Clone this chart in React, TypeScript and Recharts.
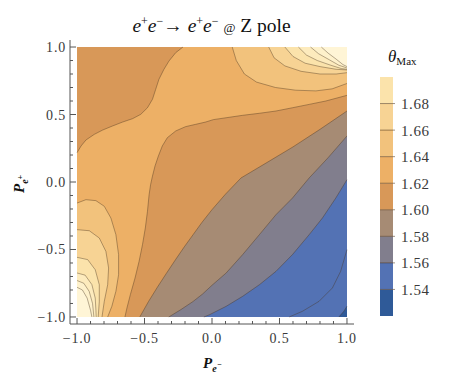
import React from "react";
import { ScatterChart, Scatter, XAxis, YAxis, BarChart, Bar } from "recharts";

type P = [number, number];

// contour levels and the fill of the band that starts at each level
const levels = [1.52, 1.54, 1.56, 1.58, 1.6, 1.62, 1.64, 1.66, 1.68, 1.7, 1.72, 1.74];
const levelColors = [
  "#2f5a98", "#5372b4", "#817e8d", "#a68b74", "#d89858", "#edb066",
  "#f2c27c", "#f7d394", "#fbe3ab", "#fdebbd", "#fef1cb", "#fff5d6",
];

// legend bar
const legendTicks = [1.54, 1.56, 1.58, 1.6, 1.62, 1.64, 1.66, 1.68];
const legendTop = 1.7;

// axis ticks
const majorTicks = [-1, -0.5, 0, 0.5, 1];
const minorTicks = [-1, -0.9, -0.8, -0.7, -0.6, -0.5, -0.4, -0.3, -0.2, -0.1, 0, 0.1, 0.2, 0.3, 0.4, 0.5, 0.6, 0.7, 0.8, 0.9, 1];

// contour lines, [P_e-, P_e+]
const c152: P[] = [[0.94, -1], [0.975, -0.96], [1, -0.92]];
const cArc: P[] = [[1, -0.501], [0.953, -0.662], [0.892, -0.785], [0.793, -0.884], [0.67, -0.958], [0.572, -1]];
const c156: P[] = [[1, 0.017], [0.917, -0.119], [0.818, -0.267], [0.72, -0.39], [0.596, -0.538], [0.474, -0.662], [0.351, -0.761], [0.227, -0.847], [0.105, -0.921], [-0.018, -0.983], [-0.06, -1]];
const c158: P[] = [[1, 0.341], [0.86, 0.18], [0.72, 0.03], [0.596, -0.119], [0.474, -0.242], [0.351, -0.39], [0.227, -0.538], [0.105, -0.674], [0, -0.765], [-0.07, -0.83], [-0.14, -0.885], [-0.23, -0.945], [-0.32, -1]];
const c160: P[] = [[1, 0.526], [0.8, 0.39], [0.6, 0.26], [0.4, 0.14], [0.215, 0.03], [0.1, -0.09], [0, -0.205], [-0.075, -0.3], [-0.14, -0.39], [-0.205, -0.48], [-0.27, -0.575], [-0.34, -0.68], [-0.405, -0.78], [-0.47, -0.885], [-0.535, -1]];
const c162a: P[] = [[-0.215, 1], [-0.269, 0.958], [-0.319, 0.896], [-0.356, 0.835], [-0.393, 0.761], [-0.417, 0.687], [-0.441, 0.613], [-0.478, 0.55], [-0.528, 0.501], [-0.589, 0.469], [-0.663, 0.444], [-0.737, 0.415], [-0.81, 0.385], [-0.872, 0.353], [-0.934, 0.311], [-0.97, 0.267], [-1, 0.217]];
const c162b: P[] = [[1, 0.642], [0.843, 0.6], [0.72, 0.575], [0.596, 0.55], [0.474, 0.526], [0.351, 0.509], [0.227, 0.494], [0.105, 0.476], [0.01, 0.462], [-0.048, 0.444], [-0.122, 0.427], [-0.196, 0.41], [-0.269, 0.378], [-0.331, 0.328], [-0.368, 0.267], [-0.397, 0.193], [-0.422, 0.119], [-0.441, 0.044], [-0.455, -0.02], [-0.466, -0.094], [-0.478, -0.217], [-0.494, -0.341], [-0.515, -0.464], [-0.54, -0.587], [-0.57, -0.711], [-0.605, -0.835], [-0.63, -0.933], [-0.645, -1]];

// top right corner, top edge -> right edge
const c164t: P[] = [[0.15, 1], [0.18, 0.9], [0.24, 0.8], [0.33, 0.74], [0.47, 0.7], [0.62, 0.68], [0.77, 0.675], [0.89, 0.69], [1, 0.73]];
const c166t: P[] = [[0.42, 1], [0.46, 0.92], [0.54, 0.86], [0.66, 0.82], [0.8, 0.8], [0.92, 0.8], [1, 0.81]];
const c168t: P[] = [[0.54, 1], [0.6, 0.93], [0.69, 0.88], [0.8, 0.855], [0.92, 0.835], [1, 0.83]];
const c170t: P[] = [[0.64, 1], [0.7, 0.94], [0.78, 0.9], [0.88, 0.865], [0.96, 0.84], [1, 0.835]];
const c172t: P[] = [[0.73, 1], [0.79, 0.95], [0.87, 0.905], [0.94, 0.865], [1, 0.845]];
const c174t: P[] = [[0.81, 1], [0.86, 0.955], [0.92, 0.91], [0.97, 0.87], [1, 0.855]];

// bottom left corner, left edge -> bottom edge
const c164b: P[] = [[-1, -0.156], [-0.934, -0.131], [-0.86, -0.138], [-0.798, -0.18], [-0.749, -0.267], [-0.712, -0.39], [-0.692, -0.538], [-0.692, -0.687], [-0.712, -0.81], [-0.742, -0.921], [-0.773, -1]];
const c166b: P[] = [[-1, -0.353], [-0.909, -0.361], [-0.835, -0.415], [-0.786, -0.514], [-0.766, -0.637], [-0.773, -0.761], [-0.798, -0.884], [-0.815, -1]];
const c168b: P[] = [[-1, -0.558], [-0.921, -0.575], [-0.865, -0.65], [-0.835, -0.761], [-0.835, -0.884], [-0.843, -1]];
const c170b: P[] = [[-1, -0.674], [-0.94, -0.69], [-0.89, -0.76], [-0.865, -0.86], [-0.86, -0.95], [-0.858, -1]];
const c172b: P[] = [[-1, -0.73], [-0.95, -0.75], [-0.91, -0.81], [-0.885, -0.9], [-0.875, -1]];
const c174b: P[] = [[-1, -0.78], [-0.96, -0.8], [-0.925, -0.86], [-0.9, -0.95], [-0.89, -1]];

const colorOf = (lv: number) => levelColors[levels.findIndex((l) => Math.abs(l - lv) < 1e-9)];
const toPts = (a: P[]) => a.map(([x, y]) => ({ x, y }));

// painted in order: base band, sub-level sets going down, super-level sets going up
const regions: { pts: P[]; lv: number }[] = [
  { pts: [[-1, 1], [1, 1], [1, -1], [-1, -1]], lv: 1.6 },
  { pts: [...c160, [1, -1]], lv: 1.58 },
  { pts: [...c158, [1, -1]], lv: 1.56 },
  { pts: [...c156, [1, -1]], lv: 1.54 },
  { pts: [...c152, [1, -1]], lv: 1.52 },
  { pts: [...c162a, [-1, -1], ...[...c162b].reverse(), [1, 1]], lv: 1.62 },
  { pts: [...c164t, [1, 1]], lv: 1.64 },
  { pts: [...c164b, [-1, -1]], lv: 1.64 },
  { pts: [...c166t, [1, 1]], lv: 1.66 },
  { pts: [...c166b, [-1, -1]], lv: 1.66 },
  { pts: [...c168t, [1, 1]], lv: 1.68 },
  { pts: [...c168b, [-1, -1]], lv: 1.68 },
  { pts: [...c170t, [1, 1]], lv: 1.7 },
  { pts: [...c170b, [-1, -1]], lv: 1.7 },
  { pts: [...c172t, [1, 1]], lv: 1.72 },
  { pts: [...c172b, [-1, -1]], lv: 1.72 },
  { pts: [...c174t, [1, 1]], lv: 1.74 },
  { pts: [...c174b, [-1, -1]], lv: 1.74 },
];

const contourLines = [c152, cArc, c156, c158, c160, c162a, c162b, c164t, c166t, c168t, c170t, c172t, c174t, c164b, c166b, c168b, c170b, c172b, c174b];

const frameColor = "#555";
const labelColor = "#3a3a3a";
const serif = "'Liberation Serif', 'Times New Roman', serif";

const pathOf = (closed: boolean, fill: string, stroke: string) => (p: any) => {
  const pts = p.points || [];
  const d = pts.map((q: any, i: number) => `${i ? "L" : "M"}${q.x},${q.y}`).join(" ") + (closed ? " Z" : "");
  return <path d={d} fill={fill} stroke={stroke} strokeWidth={0.8} strokeLinejoin="round" />;
};

const noDot = () => <g />;

const fmt = (v: number) => (Math.abs(v) < 1e-9 ? "0.0" : v < 0 ? "\u2212" + Math.abs(v).toFixed(1) : v.toFixed(1));

function FrameTick(props: any) {
  const { x, y, payload, side } = props;
  const v = payload.value;
  const major = majorTicks.some((m) => Math.abs(m - v) < 1e-6);
  const len = major ? 6 : 3;
  let ln = null;
  if (side === "bottom") ln = <line x1={x} y1={y} x2={x} y2={y - len} />;
  if (side === "top") ln = <line x1={x} y1={y} x2={x} y2={y + len} />;
  if (side === "left") ln = <line x1={x} y1={y} x2={x + len} y2={y} />;
  if (side === "right") ln = <line x1={x} y1={y} x2={x - len} y2={y} />;
  return (
    <g stroke={frameColor} strokeWidth={1}>
      {ln}
      {major && side === "bottom" && (
        <text x={x} y={y + 19} textAnchor="middle" stroke="none" fill={labelColor} fontSize={14} fontFamily={serif} letterSpacing={0.8}>
          {fmt(v)}
        </text>
      )}
      {major && side === "left" && (
        <text x={x - 4} y={y + 5} textAnchor="end" stroke="none" fill={labelColor} fontSize={14} fontFamily={serif} letterSpacing={0.8}>
          {fmt(v)}
        </text>
      )}
    </g>
  );
}

function LegendTick(props: any) {
  const { x, y, payload } = props;
  return (
    <g>
      <line x1={x - 13} y1={y} x2={x + 2} y2={y} stroke="rgba(80,55,30,0.55)" strokeWidth={1} />
      <text x={x + 8} y={y + 5.5} fill={labelColor} fontSize={15} fontFamily={serif} letterSpacing={0.6}>
        {payload.value.toFixed(2)}
      </text>
    </g>
  );
}

const legendBands = levels.filter((l) => l < legendTop - 1e-9);
const legendRow: Record<string, number | string> = { name: "theta", base: levels[0] };
legendBands.forEach((l, i) => {
  legendRow["b" + i] = (i + 1 < legendBands.length ? legendBands[i + 1] : legendTop) - l;
});

const dom: [number, number] = [-1.052, 1.052];

export default function App() {
  return (
    <div style={{ position: "relative", width: 433, height: 366 }}>
      <ScatterChart width={433} height={366} margin={{ top: 32, right: 87, bottom: 20, left: 22 }}>
        <XAxis xAxisId={0} type="number" dataKey="x" domain={dom} ticks={minorTicks} interval={0} allowDataOverflow height={30}
          tickSize={0} tickMargin={0} tickLine={false} axisLine={{ stroke: frameColor }} tick={(p: any) => <FrameTick {...p} side="bottom" />} />
        <XAxis xAxisId="top" orientation="top" type="number" domain={dom} ticks={minorTicks} interval={0} allowDataOverflow height={0}
          tickSize={0} tickMargin={0} tickLine={false} axisLine={{ stroke: frameColor }} tick={(p: any) => <FrameTick {...p} side="top" />} />
        <YAxis yAxisId={0} type="number" dataKey="y" domain={dom} ticks={minorTicks} interval={0} allowDataOverflow width={40}
          tickSize={0} tickMargin={0} tickLine={false} axisLine={{ stroke: frameColor }} tick={(p: any) => <FrameTick {...p} side="left" />} />
        <YAxis yAxisId="right" orientation="right" type="number" domain={dom} ticks={minorTicks} interval={0} allowDataOverflow width={0}
          tickSize={0} tickMargin={0} tickLine={false} axisLine={{ stroke: frameColor }} tick={(p: any) => <FrameTick {...p} side="right" />} />
        {regions.map((r, i) => (
          <Scatter key={"r" + i} data={toPts(r.pts)} fill={colorOf(r.lv)} shape={noDot} line={pathOf(true, colorOf(r.lv), "none")} isAnimationActive={false} />
        ))}
        {contourLines.map((c, i) => (
          <Scatter key={"c" + i} data={toPts(c)} fill="none" shape={noDot} line={pathOf(false, "none", "rgba(70,50,30,0.5)")} isAnimationActive={false} />
        ))}
      </ScatterChart>

      <div style={{ position: "absolute", left: 372, top: 64 }}>
        <BarChart width={63} height={249} data={[legendRow]} margin={{ top: 5, right: 0, bottom: 5, left: 0 }} barCategoryGap={0}>
          <XAxis dataKey="name" hide />
          <YAxis orientation="right" type="number" domain={[levels[0], legendTop]} allowDataOverflow ticks={legendTicks} interval={0} width={50}
            tickSize={0} tickMargin={0} tickLine={false} axisLine={false} tick={(p: any) => <LegendTick {...p} />} />
          <Bar dataKey="base" stackId="s" fill="none" isAnimationActive={false} />
          {legendBands.map((l, i) => (
            <Bar key={i} dataKey={"b" + i} stackId="s" fill={levelColors[i]} isAnimationActive={false} />
          ))}
        </BarChart>
      </div>

      <svg width={433} height={366} style={{ position: "absolute", left: 0, top: 0, pointerEvents: "none" }} fontFamily={serif}>
        <text x={203.5} y={24} fontSize={19.5} fill="#111" textAnchor="middle">
          <tspan fontStyle="italic">e</tspan>
          <tspan fontSize={12} dy={-7.5}>+</tspan>
          <tspan fontStyle="italic" dy={7.5}>e</tspan>
          <tspan fontSize={12} dy={-7.5}>{"\u2212"}</tspan>
          <tspan dy={7.5}>{"\u2192 "}</tspan>
          <tspan fontStyle="italic">e</tspan>
          <tspan fontSize={12} dy={-7.5}>+</tspan>
          <tspan fontStyle="italic" dy={7.5}>e</tspan>
          <tspan fontSize={12} dy={-7.5}>{"\u2212"}</tspan>
          <tspan dy={7.5}>{" "}</tspan>
          <tspan fontSize={13}>@</tspan>
          <tspan>{" Z pole"}</tspan>
        </text>
        <text x={195} y={360} fontSize={15} fill="#111" fontWeight="bold" fontStyle="italic">
          <tspan>P</tspan>
          <tspan fontSize={10} dy={4}>e</tspan>
          <tspan fontSize={8} dy={-5}>{"\u2212"}</tspan>
        </text>
        <text transform="translate(16,185) rotate(-90)" fontSize={15} fill="#111" fontWeight="bold" fontStyle="italic">
          <tspan>P</tspan>
          <tspan fontSize={10} dy={4}>e</tspan>
          <tspan fontSize={8} dy={-5}>+</tspan>
        </text>
        <text x={380} y={54} fontSize={17} fill="#111">
          <tspan fontStyle="italic">{"\u03b8"}</tspan>
          <tspan fontSize={11} dy={3}>Max</tspan>
        </text>
      </svg>
    </div>
  );
}
